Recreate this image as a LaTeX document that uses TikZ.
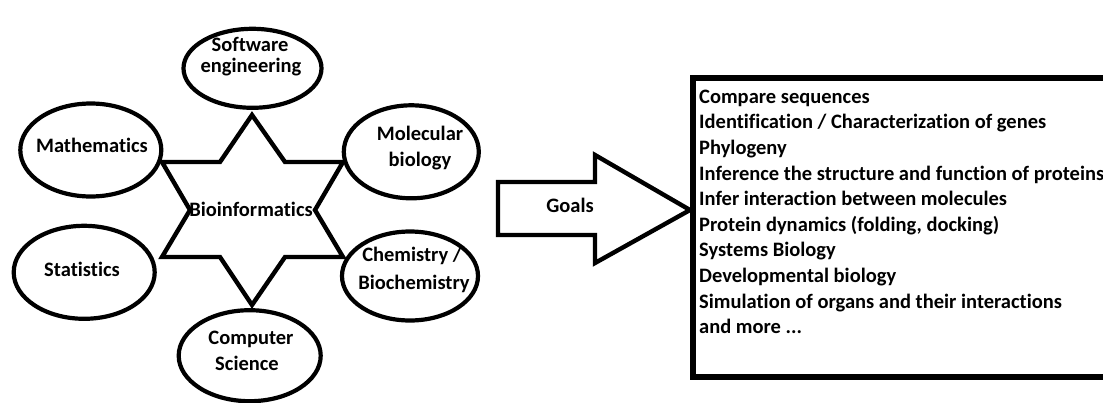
\documentclass[tikz,border=0pt]{standalone}
\usepackage{fontspec}
\setmainfont{Carlito}[Ligatures=NoCommon]
\usetikzlibrary{shapes.geometric}
\begin{document}
\begin{tikzpicture}[x=1pt,y=-1pt,
  field/.style={draw, ellipse, line width=4.2pt, inner sep=0pt},
  lbl/.style={font=\bfseries\fontsize{20.5}{24}\selectfont, anchor=base, inner sep=0pt},
  goal/.style={font=\bfseries\fontsize{20.5}{24}\selectfont, anchor=base west, inner sep=0pt},
  outline/.style={line width=4.4pt, line join=miter}]
\useasboundingbox (0,0) rectangle (1103,402);

% six-pointed star behind the central label
\draw[outline] (252,115) -- (285,162) -- (343,162) -- (315,210) -- (343,257)
  -- (285,257) -- (252,305) -- (220,257) -- (162,257) -- (190,210)
  -- (162,162) -- (220,162) -- cycle;
\node[lbl] (bio) at (251,216) {Bioinformatics};

% surrounding fields
\node[field, minimum width=138, minimum height=79] (sw) at (252.5,68.3) {};
\node[field, minimum width=141, minimum height=93] (math) at (90.8,150) {};
\node[field, minimum width=135, minimum height=93] (mol) at (411.3,151.8) {};
\node[field, minimum width=141, minimum height=93] (stat) at (84.2,272.3) {};
\node[field, minimum width=136, minimum height=89] (chem) at (410,276) {};
\node[field, minimum width=142, minimum height=91] (cs) at (249.7,355.7) {};

\node[lbl] (sw1) at (250,51.7) {Software};
\node[lbl] (sw2) at (251,72.7) {engineering};
\node[lbl] (math1) at (92,152.7) {Mathematics};
\node[lbl] (mol1) at (420,140) {Molecular};
\node[lbl] (mol2) at (420,166.7) {biology};
\node[lbl] (stat1) at (82,276.7) {Statistics};
\node[lbl] (chem1) at (412,261.7) {Chemistry /};
\node[lbl] (chem2) at (414,289.3) {Biochemistry};
\node[lbl] (cs1) at (251,344.3) {Computer};
\node[lbl] (cs2) at (247,370) {Science};

% block arrow
\draw[outline] (498,182) -- (595,182) -- (595,155) -- (690,210) -- (595,263)
  -- (595,235) -- (498,235) -- cycle;
\node[lbl] (goals) at (570,212.3) {Goals};

% list of goals
\draw[line width=5.5pt] (693,78) rectangle (1120,377);
\node[goal] (g0) at (699,103.3) {Compare sequences};
\node[goal] (g1) at (699,128.9) {Identification / Characterization of genes};
\node[goal] (g2) at (699,154.5) {Phylogeny};
\node[goal] (g3) at (699,180.1) {Inference the structure and function of proteins};
\node[goal] (g4) at (699,205.7) {Infer interaction between molecules};
\node[goal] (g5) at (699,231.3) {Protein dynamics (folding, docking)};
\node[goal] (g6) at (699,256.9) {Systems Biology};
\node[goal] (g7) at (699,282.5) {Developmental biology};
\node[goal] (g8) at (699,308.1) {Simulation of organs and their interactions};
\node[goal] (g9) at (699,333.7) {and more ...};
\end{tikzpicture}
\end{document}
